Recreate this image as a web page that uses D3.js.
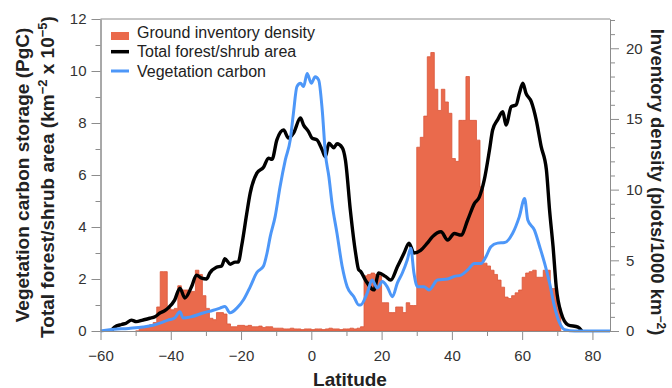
<!DOCTYPE html>
<html>
<head>
<meta charset="utf-8">
<script src="https://d3js.org/d3.v7.min.js"></script>
<style>
  body { margin: 0; background: #fff; }
  * { font-family: "Liberation Sans", Arial, sans-serif; }
</style>
</head>
<body>
<svg id="chart" width="672" height="388"></svg>
<script>
// ground inventory density (plots/1000 km^-2), 1-degree bins, left edge latitude
const densityLat = [-50, -49, -48, -47, -46, -45, -44, -43, -42, -41, -40, -39, -38, -37, -36, -35, -34, -33, -32, -31,
  -30, -29, -28, -27, -26, -25, -24, -23, -22, -21, -20, -19, -18, -17, -16, -15, -14, -13, -12, -11,
  -10, -9, -8, -7, -6, -5, -4, -3, -2, -1, 0, 1, 2, 3, 4, 5, 6, 7, 8, 9,
  10, 11, 12, 13, 14, 15, 16, 17, 18, 19, 20, 21, 22, 23, 24, 25, 26, 27, 28, 29,
  30, 31, 32, 33, 34, 35, 36, 37, 38, 39, 40, 41, 42, 43, 44, 45, 46, 47, 48, 49,
  50, 51, 52, 53, 54, 55, 56, 57, 58, 59, 60, 61, 62, 63, 64, 65, 66, 67, 68, 69,
  70, 71];
const density = [0, 0.2, 0.3, 0.35, 0.45, 0.6, 1.7, 4.2, 4.2, 1.6, 1.5, 1.6, 3.2, 2.9, 2.9, 2.8, 2.8, 4.3, 4.0, 2.5,
  1.6, 0.9, 0.8, 1.3, 1.3, 1.2, 0.5, 0.3, 0.3, 0.4, 0.4, 0.35, 0.4, 0.3, 0.3, 0.35, 0.25, 0.3, 0.3, 0.2,
  0.2, 0.2, 0.15, 0.15, 0.2, 0.15, 0.15, 0.1, 0.15, 0.15, 0.1, 0.15, 0.15, 0.1, 0.15, 0.2, 0.15, 0.15, 0.1, 0.15,
  0.15, 0.2, 0.15, 0.2, 0.3, 3.9, 4.0, 4.1, 4.0, 3.9, 2.0, 2.0, 1.3, 1.3, 1.7, 1.7, 1.3, 2.0, 1.8, 1.8,
  13.0, 13.7, 15.2, 19.4, 19.7, 17.1, 15.6, 17.1, 16.2, 15.4, 12.2, 12.0, 14.9, 14.9, 18.0, 14.9, 14.9, 13.5, 10.2, 4.8,
  4.6, 4.3, 4.0, 3.6, 3.1, 2.4, 2.3, 2.5, 2.7, 2.9, 3.8, 4.1, 4.2, 4.3, 3.8, 3.8, 4.3, 4.3, 3.0, 3.0,
  1.6, 0];

// total forest/shrub area (km^-2 x 10^-5)
const forestLat = [-57, -56, -54, -52.7, -51.2, -49.8, -48, -46, -44.5, -43.1, -41.5, -40.8, -38.9, -37.4, -36, -34.1, -32.7, -31.2, -29.8, -28.9,
  -27, -25.5, -24.6, -23.1, -21.7, -20.8, -19.8, -18.4, -17.4, -15.5, -13.6, -12.2, -11.2, -9.8, -7.9, -6.5, -5.1, -3.1, -2.2, -0.8,
  0.2, 1.6, 3.1, 4.0, 5.0, 6.4, 7.3, 8.8, 9.7, 11.1, 12.6, 13.5, 14, 15.4, 17.8, 19.2, 21.1, 22.6, 24.5, 26.4,
  27.8, 29.2, 31.1, 33, 34.5, 36.9, 38.8, 40.7, 42.6, 44.5, 46.4, 47.8, 49.2, 50.7, 51.6, 53, 54.5, 55.4, 56.9, 58.3,
  59.2, 60.2, 61.1, 62.6, 64, 65.4, 66.9, 67.8, 68.8, 69.7, 71.1, 73.1, 75.9, 77];
const forestArea = [0, 0.15, 0.25, 0.3, 0.42, 0.36, 0.42, 0.49, 0.55, 0.69, 0.8, 0.88, 1.19, 1.65, 1.27, 1.7, 2.15, 2.03, 2.0, 2.23,
  2.45, 2.5, 2.78, 2.57, 2.65, 2.65, 3.3, 4.5, 5.3, 6.07, 6.3, 6.65, 6.6, 7.35, 7.73, 7.42, 7.6, 8.19, 7.92, 7.67,
  7.42, 7.35, 6.96, 6.7, 7.22, 7.05, 7.2, 7.05, 6.58, 4.65, 3.0, 2.35, 2.3, 1.96, 1.58, 2.23, 2.1, 1.96, 2.47, 3.0,
  3.38, 3.0, 3.1, 3.38, 3.63, 3.82, 3.5, 3.75, 3.69, 4.27, 4.9, 5.15, 5.8, 6.96, 7.73, 8.12, 8.43, 7.92, 8.63, 8.7,
  9.14, 9.53, 9.14, 8.82, 8.12, 7.1, 6.2, 4.65, 3.24, 1.7, 0.69, 0.23, 0.15, 0];

// vegetation carbon storage (PgC)
const carbonLat = [-60, -57.4, -52, -47.9, -45, -43.1, -40.8, -38.9, -37.4, -36.5, -34.1, -30.8, -27.9, -26, -24.6, -23.1, -21.2, -19.3, -17.4, -15.5,
  -13.6, -12.6, -11.7, -10.3, -8.9, -7.4, -6, -5.1, -4.1, -3.1, -2.2, -1.2, 0, 1.1, 2.1, 3.1, 4, 5, 5.9, 7.3,
  8.8, 10.2, 12.1, 13.5, 14, 15.9, 17.3, 18.8, 20.2, 21.6, 23.1, 24.5, 25.9, 27.3, 28.3, 29.2, 30.2, 32.1, 33.5, 35.9,
  38.8, 40.7, 42.6, 44.5, 46.4, 48.3, 49.7, 51.1, 53, 55, 57.3, 59.2, 60.7, 61.6, 63.5, 65, 66.4, 67.8, 69.2, 70.7,
  72.1, 75, 85];
const carbon = [0, 0.05, 0.1, 0.15, 0.22, 0.3, 0.42, 0.5, 0.74, 0.5, 0.55, 0.69, 0.8, 0.88, 0.94, 0.7, 0.88, 1.2, 1.7, 2.25,
  2.5, 3.0, 3.63, 4.4, 5.55, 6.58, 7.35, 8.37, 9.4, 9.53, 9.4, 9.9, 9.53, 9.78, 9.65, 8.5, 6.83, 5.93, 4.9, 3.76,
  2.47, 1.7, 1.32, 1.0, 1.0, 1.46, 1.96, 1.65, 1.9, 1.7, 1.32, 1.85, 2.23, 2.73, 3.18, 2.23, 1.7, 1.7, 1.58, 1.96,
  2.0, 2.1, 2.15, 2.35, 2.6, 2.6, 2.86, 3.24, 3.38, 3.4, 3.76, 4.4, 5.1, 4.27, 3.88, 3.24, 2.6, 1.85, 0.94, 0.3,
  0.05, 0, 0];

const latTicks = [-60, -40, -20, 0, 20, 40, 60, 80];
const latMinor = [-50, -30, -10, 10, 30, 50, 70];
const leftTicks = [0, 2, 4, 6, 8, 10, 12];
const leftMinor = [1, 3, 5, 7, 9, 11];
const rightTicks = [0, 5, 10, 15, 20];
const rightMinor = [1, 2, 3, 4, 6, 7, 8, 9, 11, 12, 13, 14, 16, 17, 18, 19, 21, 22];

const legendLabels = ["Ground inventory density", "Total forest/shrub area", "Vegetation carbon"];

const svg = d3.select("#chart");
const plotLeft = 100.5, plotRight = 610, plotTop = 19, plotBottom = 331;

const x = d3.scaleLinear().domain([-60, 85]).range([plotLeft, plotRight]);
const yL = d3.scaleLinear().domain([0, 12]).range([plotBottom, plotTop]);
const yR = d3.scaleLinear().domain([0, 22.07]).range([plotBottom, plotTop]);

const red = "#EA6A4C", black = "#000", blue = "#4D97F8";
const axisGrey = "#8c8c8c", labelCol = "#333";

// bars as a step area
const bars = d3.area()
  .curve(d3.curveStepAfter)
  .x((d, i) => x(densityLat[i]))
  .y0(yR(0))
  .y1(d => yR(d));
svg.append("path").datum(density)
  .attr("d", bars)
  .attr("fill", red)
  .attr("stroke", "#DA5638")
  .attr("stroke-width", 0.8);

// lines
const line = d3.line().curve(d3.curveMonotoneX);
svg.append("path")
  .attr("d", line(forestLat.map((l, i) => [x(l), yL(forestArea[i])])))
  .attr("fill", "none").attr("stroke", black).attr("stroke-width", 3.4)
  .attr("stroke-linejoin", "round");
svg.append("path")
  .attr("d", line(carbonLat.map((l, i) => [x(l), yL(carbon[i])])))
  .attr("fill", "none").attr("stroke", blue).attr("stroke-width", 3)
  .attr("stroke-linejoin", "round");

// axes
function styleAxis(g) {
  g.select(".domain").attr("stroke", axisGrey);
  g.selectAll(".tick line").attr("stroke", axisGrey);
  g.selectAll(".tick text").attr("fill", labelCol).style("font-size", "15px");
}

svg.append("g").attr("transform", `translate(${plotLeft},0)`)
  .call(d3.axisLeft(yL).tickValues(leftTicks).tickSize(9).tickSizeOuter(0).tickPadding(5))
  .call(styleAxis);
svg.append("g").attr("transform", `translate(${plotLeft},0)`)
  .call(d3.axisLeft(yL).tickValues(leftMinor).tickSize(5).tickSizeOuter(0).tickFormat(""))
  .call(styleAxis);

svg.append("g").attr("transform", `translate(${plotRight},0)`)
  .call(d3.axisRight(yR).tickValues(rightTicks).tickSize(9).tickSizeOuter(0).tickPadding(7))
  .call(styleAxis);
svg.append("g").attr("transform", `translate(${plotRight},0)`)
  .call(d3.axisRight(yR).tickValues(rightMinor).tickSize(5).tickSizeOuter(0).tickFormat(""))
  .call(styleAxis);

svg.append("g").attr("transform", `translate(0,${plotBottom})`)
  .call(d3.axisBottom(x).tickValues(latTicks).tickSize(9).tickSizeOuter(0).tickPadding(10))
  .call(styleAxis);
svg.append("g").attr("transform", `translate(0,${plotBottom})`)
  .call(d3.axisBottom(x).tickValues(latMinor).tickSize(5).tickSizeOuter(0).tickFormat(""))
  .call(styleAxis);

// top frame line
svg.append("line")
  .attr("x1", plotLeft).attr("x2", plotRight).attr("y1", plotTop).attr("y2", plotTop)
  .attr("stroke", axisGrey);

// axis titles
const titleStyle = t => t.attr("font-weight", "bold").style("font-size", "19px").attr("fill", "#222").attr("text-anchor", "middle");

svg.append("text").attr("transform", "translate(29,175) rotate(-90)")
  .call(titleStyle).text("Vegetation carbon storage (PgC)");

const t2 = svg.append("text").attr("transform", "translate(53.5,177) rotate(-90)").call(titleStyle);
t2.append("tspan").text("Total forest/shrub area (km");
t2.append("tspan").attr("dy", -7).style("font-size", "13px").text("\u22122");
t2.append("tspan").attr("dy", 7).text(" x 10");
t2.append("tspan").attr("dy", -7).style("font-size", "13px").text("\u22125");
t2.append("tspan").attr("dy", 7).text(")");

const t3 = svg.append("text").attr("transform", "translate(651,182) rotate(90)").call(titleStyle)
  .style("font-size", "18.5px");
t3.append("tspan").text("Inventory density (plots/1000 km");
t3.append("tspan").attr("dy", -6).style("font-size", "12px").text("\u22122");
t3.append("tspan").attr("dy", 6).text(")");

svg.append("text").attr("x", 350).attr("y", 385.5).call(titleStyle).text("Latitude");

// legend
const legend = svg.append("g");
legend.append("rect").attr("x", 111).attr("y", 32).attr("width", 18).attr("height", 8).attr("fill", red);
legend.append("line").attr("x1", 111).attr("x2", 129).attr("y1", 51.7).attr("y2", 51.7)
  .attr("stroke", black).attr("stroke-width", 3.5);
legend.append("line").attr("x1", 111).attr("x2", 129).attr("y1", 71).attr("y2", 71)
  .attr("stroke", blue).attr("stroke-width", 3);
legend.selectAll("text.lab").data(legendLabels).join("text")
  .attr("class", "lab")
  .attr("x", 137)
  .attr("y", (d, i) => 37.5 + i * 19.6)
  .style("font-size", "16px")
  .attr("fill", "#222")
  .text(d => d);
</script>
</body>
</html>
